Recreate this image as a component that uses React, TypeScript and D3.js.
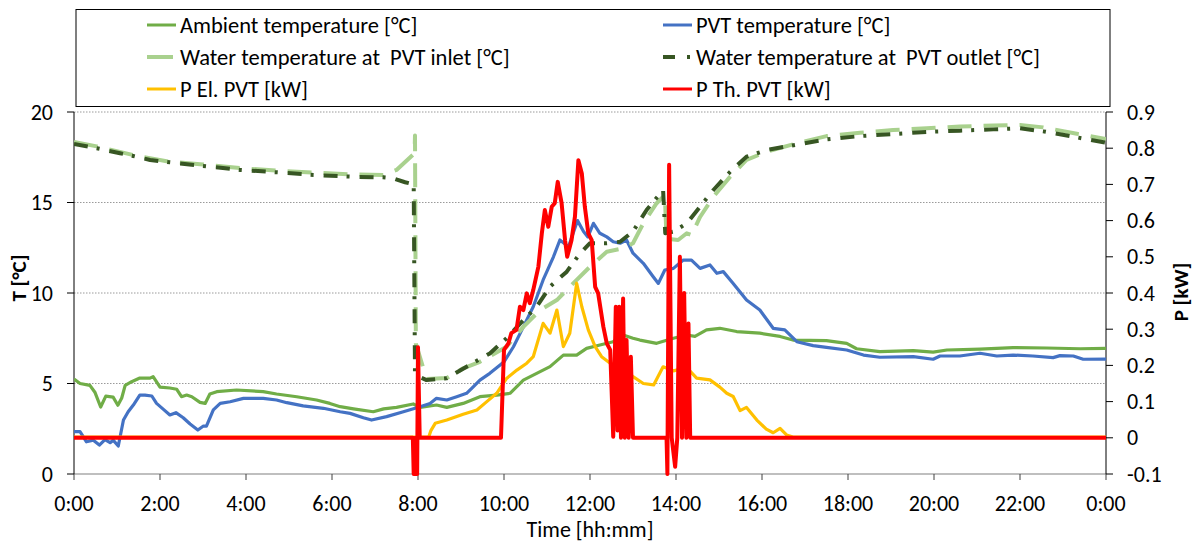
import React from "react";
import * as d3 from "d3";

// ---------- data (hour of day, value) ----------
const ambientT: [number, number][] = [
  [0, 5.25], [0.14, 5.0], [0.37, 4.9], [0.49, 4.5], [0.62, 3.7], [0.74, 4.3], [0.91, 4.25], [1.02, 3.8],
  [1.11, 4.2], [1.19, 4.9], [1.34, 5.1], [1.53, 5.3], [1.77, 5.3], [1.84, 5.38], [2.0, 4.8], [2.23, 4.75],
  [2.39, 4.68], [2.5, 4.27], [2.62, 4.36], [2.74, 4.27], [2.93, 3.96], [3.05, 3.9], [3.16, 4.42], [3.32, 4.55],
  [3.78, 4.64], [4.4, 4.55], [4.71, 4.42], [5.18, 4.27], [5.64, 4.09], [5.95, 3.9], [6.19, 3.72], [6.5, 3.6],
  [6.96, 3.44], [7.2, 3.6], [7.5, 3.68], [7.89, 3.87], [8.05, 3.68], [8.43, 3.81], [8.67, 3.68], [9.05, 3.9],
  [9.44, 4.27], [9.83, 4.36], [10.14, 4.46], [10.45, 5.19], [10.76, 5.56], [11.07, 5.93], [11.38, 6.57],
  [11.69, 6.57], [11.92, 6.94], [12.23, 7.13], [12.54, 7.31], [12.77, 7.68], [13.0, 7.5], [13.16, 7.4],
  [13.55, 7.22], [13.94, 7.5], [14.25, 7.68], [14.44, 7.6], [14.71, 7.96], [15.02, 8.05], [15.41, 7.87],
  [15.95, 7.78], [16.42, 7.6], [16.72, 7.4], [17.5, 7.37], [17.97, 7.22], [18.2, 6.92], [18.74, 6.76],
  [19.52, 6.82], [19.98, 6.73], [20.3, 6.85], [21.07, 6.9], [21.84, 6.98], [22.62, 6.96], [23.4, 6.92], [24, 6.94],
];

const pvtT: [number, number][] = [
  [0, 2.34], [0.14, 2.34], [0.29, 1.78], [0.45, 1.87], [0.59, 1.6], [0.72, 1.9], [0.84, 1.73], [0.91, 1.87],
  [1.03, 1.55], [1.15, 2.98], [1.26, 3.44], [1.38, 3.81], [1.53, 4.36], [1.65, 4.36], [1.81, 4.31], [1.92, 3.9],
  [2.08, 3.57], [2.23, 3.26], [2.37, 3.39], [2.54, 3.11], [2.7, 2.76], [2.88, 2.43], [3.01, 2.65], [3.08, 2.65],
  [3.24, 3.54], [3.4, 3.9], [3.63, 3.99], [3.94, 4.18], [4.4, 4.18], [4.71, 4.09], [4.95, 3.94], [5.33, 3.76],
  [5.8, 3.63], [6.19, 3.44], [6.42, 3.35], [6.73, 3.11], [6.92, 2.98], [7.27, 3.17], [7.66, 3.44], [8.05, 3.72],
  [8.28, 3.9], [8.43, 4.18], [8.67, 4.09], [8.9, 4.27], [9.13, 4.46], [9.29, 4.83], [9.44, 5.19], [9.67, 5.56],
  [9.91, 6.02], [10.0, 6.2], [10.22, 7.03], [10.45, 8.13], [10.68, 9.24], [10.91, 10.72], [11.15, 12.0],
  [11.3, 12.93], [11.5, 12.56], [11.71, 14.0], [11.85, 13.4], [11.95, 13.1], [12.08, 13.85], [12.23, 13.3],
  [12.39, 13.1], [12.54, 12.83], [12.7, 12.75], [12.85, 12.93], [13.0, 12.2], [13.24, 11.64], [13.47, 10.9],
  [13.59, 10.53], [13.74, 11.27], [13.94, 11.36], [14.17, 11.82], [14.36, 11.82], [14.56, 11.36], [14.79, 11.55],
  [14.95, 11.09], [15.1, 11.18], [15.33, 10.53], [15.64, 9.61], [15.95, 9.06], [16.26, 8.05], [16.53, 7.96],
  [16.81, 7.31], [17.19, 7.09], [17.5, 7.0], [17.97, 6.85], [18.36, 6.57], [18.74, 6.45], [19.52, 6.48],
  [19.98, 6.34], [20.14, 6.52], [20.6, 6.52], [21.07, 6.67], [21.46, 6.52], [21.84, 6.57], [22.3, 6.52],
  [22.77, 6.43], [22.93, 6.54], [23.24, 6.52], [23.47, 6.34], [24, 6.35],
];

const inletT: [number, number][] = [
  [0, 18.35], [0.53, 18.1], [1.38, 17.62], [2.23, 17.25], [3.0, 17.1], [3.86, 16.9], [4.71, 16.76], [5.57, 16.65],
  [6.5, 16.55], [7.19, 16.52], [7.5, 16.8], [7.92, 17.72], [7.93, 18.7], [7.95, 7.2], [8.2, 5.25], [8.67, 5.3],
  [9.05, 5.84], [9.44, 6.2], [10.06, 7.03], [10.45, 8.13], [10.84, 9.06], [11.23, 9.61], [11.61, 10.53],
  [12.0, 11.45], [12.39, 12.28], [12.77, 12.47], [13.0, 12.75], [13.24, 13.85], [13.55, 14.96], [13.74, 15.41],
  [13.78, 13.0], [14.05, 12.93], [14.25, 13.3], [14.36, 13.2], [14.56, 14.2], [14.87, 15.32], [15.26, 16.43],
  [15.64, 17.35], [16.11, 17.81], [16.81, 18.27], [17.5, 18.67], [18.28, 18.85], [19.05, 19.0], [19.83, 19.1],
  [20.6, 19.2], [21.38, 19.25], [22.0, 19.28], [22.54, 19.15], [23.32, 18.8], [24, 18.5],
];

const outletT: [number, number][] = [
  [0, 18.23], [0.53, 18.0], [1.07, 17.72], [1.38, 17.57], [1.77, 17.35], [2.23, 17.22], [3.0, 17.02],
  [3.86, 16.8], [4.71, 16.67], [5.57, 16.52], [6.5, 16.42], [7.19, 16.39], [7.43, 16.33], [7.7, 16.12],
  [7.9, 16.0], [7.93, 5.6], [8.0, 5.4], [8.2, 5.19], [8.67, 5.29], [9.13, 5.93], [9.67, 6.66], [10.06, 7.5],
  [10.45, 8.5], [10.76, 9.24], [11.07, 10.35], [11.46, 11.18], [11.77, 12.19], [12.0, 12.75], [12.39, 12.75],
  [12.7, 12.83], [13.0, 13.4], [13.32, 14.6], [13.7, 15.69], [13.75, 13.3], [13.94, 13.39], [14.25, 13.85],
  [14.56, 14.77], [14.87, 15.69], [15.26, 16.7], [15.64, 17.53], [16.11, 17.9], [16.81, 18.2], [17.5, 18.49],
  [18.28, 18.67], [19.05, 18.78], [19.83, 18.9], [20.6, 18.97], [21.38, 19.04], [22.0, 19.1], [22.54, 18.93],
  [23.32, 18.6], [24, 18.3],
];

const pEl: [number, number][] = [
  [0, 0.002], [8.25, 0.002], [8.3, 0.02], [8.4, 0.04], [8.67, 0.049], [9.05, 0.065], [9.37, 0.077], [9.6, 0.1],
  [9.83, 0.123], [10.06, 0.164], [10.3, 0.187], [10.53, 0.206], [10.68, 0.224], [10.91, 0.316], [11.07, 0.289],
  [11.23, 0.353], [11.38, 0.252], [11.53, 0.289], [11.69, 0.427], [11.81, 0.362], [11.96, 0.298], [12.12, 0.252],
  [12.27, 0.224], [12.47, 0.206], [12.7, 0.196], [13.0, 0.169], [13.24, 0.15], [13.48, 0.146], [13.7, 0.196],
  [13.94, 0.185], [14.25, 0.194], [14.48, 0.165], [14.79, 0.16], [15.02, 0.14], [15.18, 0.123], [15.33, 0.114],
  [15.49, 0.075], [15.64, 0.084], [15.88, 0.049], [16.1, 0.024], [16.26, 0.014], [16.42, 0.026], [16.57, 0.008],
  [16.72, 0.002], [24, 0.002],
];

const pTh: [number, number][] = [
  [0, 0], [7.88, 0], [7.9, -0.1], [7.93, -0.1], [7.94, 0], [7.96, -0.1], [7.98, -0.1], [8.0, 0.25], [8.04, 0],
  [9.93, 0], [10.0, 0.243], [10.1, 0.26], [10.17, 0.289], [10.29, 0.298], [10.37, 0.362], [10.45, 0.353],
  [10.53, 0.399], [10.6, 0.372], [10.68, 0.408], [10.8, 0.473], [10.88, 0.565], [10.95, 0.629], [11.03, 0.583],
  [11.11, 0.638], [11.18, 0.648], [11.25, 0.707], [11.34, 0.648], [11.42, 0.546], [11.47, 0.5], [11.57, 0.546],
  [11.65, 0.611], [11.73, 0.767], [11.81, 0.73], [11.88, 0.638], [11.96, 0.565], [12.04, 0.546], [12.12, 0.417],
  [12.19, 0.399], [12.31, 0.307], [12.39, 0.261], [12.47, 0.243], [12.54, 0.003], [12.6, 0.362], [12.64, 0.02],
  [12.68, 0.362], [12.72, 0], [12.77, 0.385], [12.81, 0], [12.85, 0.27], [12.9, 0], [12.95, 0.224], [13.0, 0],
  [13.78, 0], [13.8, -0.1], [13.84, 0.754], [13.9, 0], [13.98, -0.08], [14.03, 0], [14.09, 0.5], [14.14, 0],
  [14.19, 0.4], [14.24, 0], [14.29, 0.316], [14.33, 0], [24, 0],
];

const xTicks = [0, 2, 4, 6, 8, 10, 12, 14, 16, 18, 20, 22, 24];
const tTicks = [0, 5, 10, 15, 20];
const pTicks = [-0.1, 0, 0.1, 0.2, 0.3, 0.4, 0.5, 0.6, 0.7, 0.8, 0.9];

const FONT = "Carlito, Calibri, Lato, 'Liberation Sans', sans-serif";

export default function App() {
  const x = d3.scaleLinear().domain([0, 24]).range([74, 1106]);
  const yT = d3.scaleLinear().domain([0, 20]).range([474, 112]);
  const yP = d3.scaleLinear().domain([-0.1, 0.9]).range([474, 112]);
  const lineT = d3.line<[number, number]>().x((d) => x(d[0])).y((d) => yT(d[1]));
  const lineP = d3.line<[number, number]>().x((d) => x(d[0])).y((d) => yP(d[1]));

  const legendItems = [
    { label: "Ambient temperature [°C]", color: "#70AD47", dash: "", w: 3, col: 0, row: 0 },
    { label: "PVT temperature [°C]", color: "#4472C4", dash: "", w: 3, col: 1, row: 0 },
    { label: "Water temperature at  PVT inlet [°C]", color: "#A9D18E", dash: "", w: 4, col: 0, row: 1, len: 26 },
    { label: "Water temperature at  PVT outlet [°C]", color: "#375623", dash: "12 12 3 30", w: 4, col: 1, row: 1 },
    { label: "P El. PVT [kW]", color: "#FFC000", dash: "", w: 3, col: 0, row: 2 },
    { label: "P Th. PVT [kW]", color: "#FF0000", dash: "", w: 3, col: 1, row: 2 },
  ];
  const legX = [147, 663];
  const legY = [25, 57, 89];

  return (
    <svg width={1199} height={546} style={{ position: "absolute", left: 0, top: 0, background: "#fff" }} fontFamily={FONT}>
      <defs>
        <clipPath id="plot">
          <rect x={74} y={100} width={1032} height={376} />
        </clipPath>
      </defs>
      {/* legend box */}
      <rect x={76} y={9.5} width={1034} height={97} fill="#fff" stroke="#000" strokeWidth={1} />
      {legendItems.map((it, i) => (
        <g key={i}>
          <line
            x1={legX[it.col]}
            x2={legX[it.col] + (it.len ?? 29)}
            y1={legY[it.row]}
            y2={legY[it.row]}
            stroke={it.color}
            strokeWidth={it.w}
            strokeDasharray={it.dash || undefined}
          />
          <text
            x={legX[it.col] + 33}
            y={legY[it.row]}
            dominantBaseline="central"
            fontSize={22.5}
            fill="#000"
            style={{ whiteSpace: "pre" }}
          >
            {it.label}
          </text>
        </g>
      ))}

      {/* grid */}
      {tTicks.filter((t) => t > 0).map((t) => (
        <line key={t} x1={74} x2={1106} y1={yT(t)} y2={yT(t)} stroke="#9a9a9a" strokeWidth={1} strokeDasharray="1.5 1.5" />
      ))}

      {/* axes */}
      <line x1={74} x2={1106} y1={474} y2={474} stroke="#808080" strokeWidth={1.2} />
      <line x1={74} x2={74} y1={112} y2={474} stroke="#000" strokeWidth={1} />
      <line x1={1106} x2={1106} y1={112} y2={474} stroke="#000" strokeWidth={1} />
      {xTicks.map((h) => (
        <g key={h}>
          <line x1={x(h)} x2={x(h)} y1={474} y2={480} stroke="#404040" />
          <text x={x(h)} y={503} textAnchor="middle" dominantBaseline="central" fontSize={22}>
            {`${h % 24}:00`}
          </text>
        </g>
      ))}
      {tTicks.map((t) => (
        <g key={t}>
          <line x1={67} x2={74} y1={yT(t)} y2={yT(t)} stroke="#000" />
          <text x={53} y={yT(t)} textAnchor="end" dominantBaseline="central" fontSize={22}>
            {t}
          </text>
        </g>
      ))}
      {pTicks.map((p) => (
        <g key={p}>
          <line x1={1106} x2={1113} y1={yP(p)} y2={yP(p)} stroke="#000" />
          <text x={1127} y={yP(p)} textAnchor="start" dominantBaseline="central" fontSize={22}>
            {Math.abs(p) < 1e-9 ? "0" : String(Math.round(p * 10) / 10)}
          </text>
        </g>
      ))}
      <text transform="translate(19,278) rotate(-90)" textAnchor="middle" dominantBaseline="central" fontSize={21} fontWeight="bold">
        T [°C]
      </text>
      <text transform="translate(1181,292) rotate(-90)" textAnchor="middle" dominantBaseline="central" fontSize={21} fontWeight="bold">
        P [kW]
      </text>
      <text x={590} y={529} textAnchor="middle" dominantBaseline="central" fontSize={22}>
        Time [hh:mm]
      </text>

      {/* series */}
      <g clipPath="url(#plot)" fill="none" strokeLinejoin="round">
        <path d={lineT(ambientT) ?? ""} stroke="#70AD47" strokeWidth={3.2} />
        <path d={lineT(pvtT) ?? ""} stroke="#4472C4" strokeWidth={3.2} />
        <path d={lineT(inletT) ?? ""} stroke="#A9D18E" strokeWidth={4} strokeDasharray="24 12" />
        <path d={lineT(outletT) ?? ""} stroke="#375623" strokeWidth={4} strokeDasharray="14 9 3 10" />
        <path d={lineP(pEl) ?? ""} stroke="#FFC000" strokeWidth={3.2} />
        <path d={lineP(pTh) ?? ""} stroke="#FF0000" strokeWidth={4} />
      </g>
    </svg>
  );
}
